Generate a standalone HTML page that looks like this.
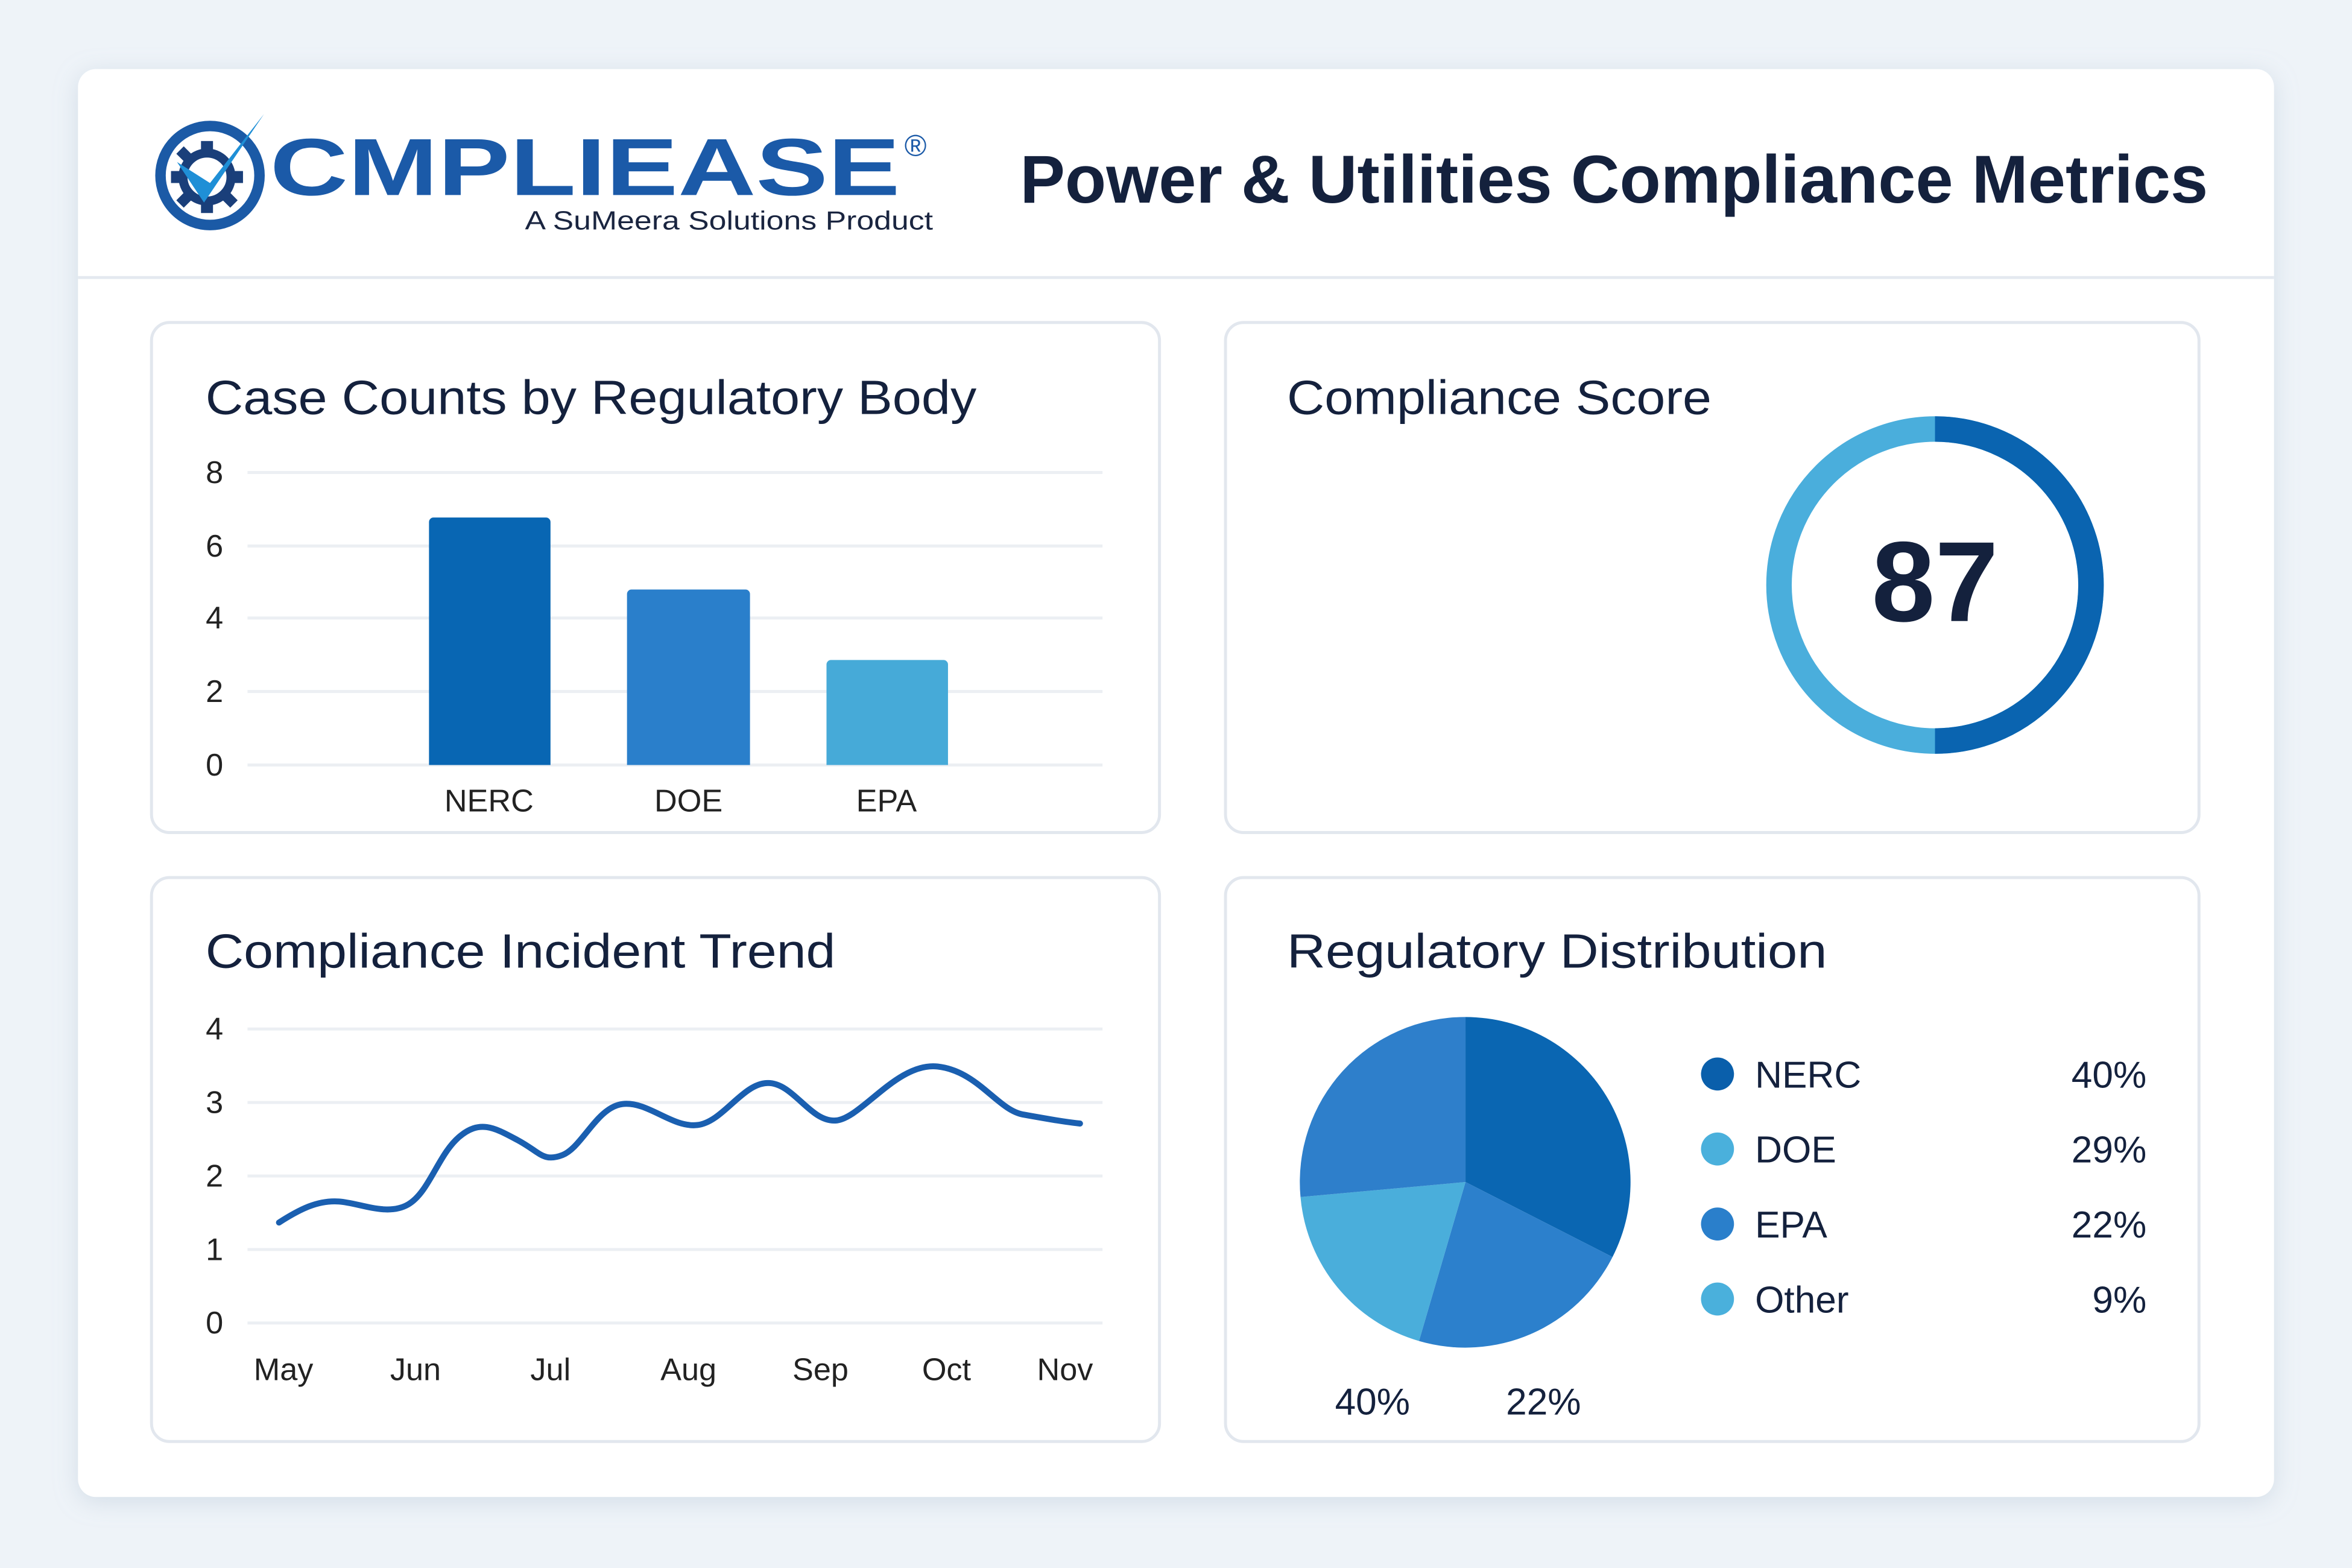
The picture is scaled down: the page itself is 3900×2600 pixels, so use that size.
<!DOCTYPE html>
<html><head><meta charset="utf-8"><style>
html,body{margin:0;padding:0;background:#eef3f8;}
svg{display:block;}
text{font-family:"Liberation Sans","DejaVu Sans",sans-serif;}
</style></head><body>
<svg width="3900" height="2600" viewBox="0 0 1568 1045.3" xmlns="http://www.w3.org/2000/svg">
<defs>
<filter id="sh" x="-5%" y="-5%" width="110%" height="110%"><feDropShadow dx="0" dy="3" stdDeviation="8" flood-color="#9fb2c8" flood-opacity="0.35"/></filter>
</defs>
<rect width="1568" height="1046" fill="#eef3f8"/>
<rect x="52" y="46" width="1464" height="952" rx="12" fill="#fff" filter="url(#sh)"/>
<line x1="52" y1="185" x2="1516" y2="185" stroke="#e4e9f0" stroke-width="2"/>

<!-- logo -->
<g>
<circle cx="140" cy="117" r="33" fill="none" stroke="#1b5aa6" stroke-width="7"/>
<g fill="#1a3f7a">
<circle cx="138" cy="118" r="16" fill="none" stroke="#1a3f7a" stroke-width="6"/>
<rect x="134" y="94" width="8" height="8"/><rect x="134" y="134" width="8" height="8"/>
<rect x="114" y="114" width="8" height="8"/><rect x="154" y="114" width="8" height="8"/>
<rect x="119" y="99" width="7" height="7" transform="rotate(45 122.5 102.5)"/>
<rect x="150" y="130" width="7" height="7" transform="rotate(45 153.5 133.5)"/>
<rect x="119" y="130" width="7" height="7" transform="rotate(45 122.5 133.5)"/>
</g>
<path d="M118 108 L136 135 L176 76 L140 122 Z" fill="#1f8fd6"/>
<text x="180" y="130" font-size="54" font-weight="bold" fill="#1b5aa8" textLength="420" lengthAdjust="spacingAndGlyphs">CMPLIEASE</text>
<text x="603" y="104" font-size="20" fill="#1b5aa8">®</text>
<text x="350" y="153" font-size="17.5" fill="#1a2540" textLength="272" lengthAdjust="spacingAndGlyphs">A SuMeera Solutions Product</text>
</g>
<text x="680" y="135" font-size="45" font-weight="bold" fill="#14213d" textLength="792" lengthAdjust="spacingAndGlyphs">Power &amp; Utilities Compliance Metrics</text>

<!-- panels -->
<g fill="#fff" stroke="#e2e7ee" stroke-width="2">
<rect x="101" y="215" width="672" height="340" rx="12"/>
<rect x="817" y="215" width="649" height="340" rx="12"/>
<rect x="101" y="585" width="672" height="376" rx="12"/>
<rect x="817" y="585" width="649" height="376" rx="12"/>
</g>
<g font-size="32" fill="#14213d">
<text x="137" y="276" textLength="514" lengthAdjust="spacingAndGlyphs">Case Counts by Regulatory Body</text>
<text x="858" y="276" textLength="283" lengthAdjust="spacingAndGlyphs">Compliance Score</text>
<text x="137" y="645" textLength="420" lengthAdjust="spacingAndGlyphs">Compliance Incident Trend</text>
<text x="858" y="645" textLength="360" lengthAdjust="spacingAndGlyphs">Regulatory Distribution</text>
</g>

<!-- bar chart -->
<g stroke="#eceff3" stroke-width="2">
<line x1="165" y1="315" x2="735" y2="315"/><line x1="165" y1="364" x2="735" y2="364"/>
<line x1="165" y1="412" x2="735" y2="412"/><line x1="165" y1="461" x2="735" y2="461"/>
<line x1="165" y1="510" x2="735" y2="510"/>
</g>
<g font-size="21" fill="#222" text-anchor="middle">
<text x="143" y="322">8</text><text x="143" y="371">6</text><text x="143" y="419">4</text><text x="143" y="468">2</text><text x="143" y="517">0</text>
<text x="326" y="541">NERC</text><text x="459" y="541">DOE</text><text x="591" y="541">EPA</text>
</g>
<path d="M286 348 a3 3 0 0 1 3 -3 h75 a3 3 0 0 1 3 3 V510 H286 Z" fill="#0866b3"/>
<path d="M418 396 a3 3 0 0 1 3 -3 h76 a3 3 0 0 1 3 3 V510 H418 Z" fill="#2a7fcb"/>
<path d="M551 443 a3 3 0 0 1 3 -3 h75 a3 3 0 0 1 3 3 V510 H551 Z" fill="#46aad8"/>

<!-- donut -->
<circle cx="1290" cy="390" r="104" fill="none" stroke="#4aaedc" stroke-width="17"/>
<path d="M1290 286 A104 104 0 0 1 1290 494" fill="none" stroke="#0a64b0" stroke-width="17"/>
<text x="1290" y="414" font-size="76" font-weight="bold" fill="#14213d" text-anchor="middle">87</text>

<!-- line chart -->
<g stroke="#eceff3" stroke-width="2">
<line x1="165" y1="686" x2="735" y2="686"/><line x1="165" y1="735" x2="735" y2="735"/>
<line x1="165" y1="784" x2="735" y2="784"/><line x1="165" y1="833" x2="735" y2="833"/>
<line x1="165" y1="882" x2="735" y2="882"/>
</g>
<g font-size="21" fill="#222" text-anchor="middle">
<text x="143" y="693">4</text><text x="143" y="742">3</text><text x="143" y="791">2</text><text x="143" y="840">1</text><text x="143" y="889">0</text>
<text x="189" y="920">May</text><text x="277" y="920">Jun</text><text x="367" y="920">Jul</text><text x="459" y="920">Aug</text><text x="547" y="920">Sep</text><text x="631" y="920">Oct</text><text x="710" y="920">Nov</text>
</g>
<path d="M186 815 C200 806,212 800,226 801 S258 811,272 803 S292 770,306 758 S330 752,345 760 S362 775,375 770 S398 738,415 736 S448 752,465 750 S495 722,512 722 S540 748,557 747 S598 708,625 711 S665 740,682 743 S710 748,720 749" fill="none" stroke="#1a5fb0" stroke-width="4" stroke-linecap="round"/>

<!-- pie -->
<g transform="translate(977 788)">
<path d="M0 0 L0 -110 A110 110 0 0 1 98 50 Z" fill="#0a66b2"/>
<path d="M0 0 L98 50 A110 110 0 0 1 -31 106 Z" fill="#2c80cc"/>
<path d="M0 0 L-31 106 A110 110 0 0 1 -110 10 Z" fill="#4aaedb"/>
<path d="M0 0 L-110 10 A110 110 0 0 1 0 -110 Z" fill="#2e7fcb"/>
</g>
<circle cx="1145" cy="716" r="11" fill="#0a5fab"/>
<circle cx="1145" cy="766" r="11" fill="#4ab0dc"/>
<circle cx="1145" cy="816" r="11" fill="#2a7fcb"/>
<circle cx="1145" cy="866" r="11" fill="#4ab0dc"/>
<g font-size="25" fill="#14213d">
<text x="1170" y="725">NERC</text><text x="1170" y="775">DOE</text><text x="1170" y="825">EPA</text><text x="1170" y="875">Other</text>
</g>
<g font-size="25" fill="#14213d" text-anchor="end">
<text x="1431" y="725">40%</text><text x="1431" y="775">29%</text><text x="1431" y="825">22%</text><text x="1431" y="875">9%</text>
</g>
<g font-size="25" fill="#14213d" text-anchor="middle">
<text x="915" y="943">40%</text><text x="1029" y="943">22%</text>
</g>
</svg>
</body></html>
